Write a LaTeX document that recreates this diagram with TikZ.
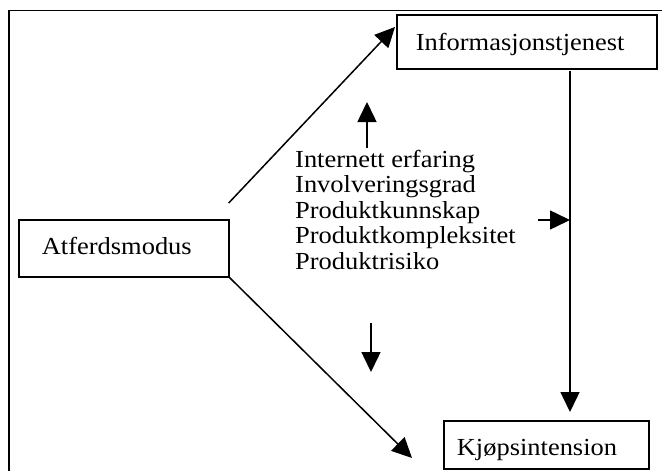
\documentclass[tikz,border=0pt]{standalone}
\usepackage{fontspec}
\setmainfont{Liberation Serif}[FakeStretch=1.08]
\usetikzlibrary{arrows.meta,calc}
\begin{document}
\begin{tikzpicture}[x=1pt,y=-1pt,
  box/.style={draw,line width=1.7pt,rectangle,anchor=north west,align=left,inner ysep=0pt,font=\fontsize{24.5}{28}\selectfont},
  conn/.style={line width=1.5pt,-{Triangle[length=20pt,width=19pt]}},
  frameline/.style={line width=1.5pt},
  factors/.style={anchor=base west,align=left,inner sep=0pt,font=\fontsize{24.5}{25.5}\selectfont}]
\useasboundingbox (0,0) rectangle (662,471);
\fill[white] (0,0) rectangle (662,471);
\draw[frameline] (9,471) -- (9,10.5) -- (662,10.5);
\node[box, minimum width=260pt, minimum height=54pt, inner xsep=19pt, text width=222pt, text height=18pt, text depth=0pt] (info) at (396,14) {Informasjonstjenest};
\node[box, minimum width=210pt, minimum height=57pt, inner xsep=23pt, text width=164pt, text height=13pt, text depth=0pt] (atf) at (18,219) {Atferdsmodus};
\node[box, minimum width=205pt, minimum height=48pt, inner xsep=13pt, text width=179pt, text height=22pt, text depth=0pt] (kjop) at (443,420) {Kjøpsintension};
\node[factors] (fac) at (295,269) {Internett erfaring\\Involveringsgrad\\Produktkunnskap\\Produktkompleksitet\\Produktrisiko};
% connector end points
\coordinate (a1s) at ($(atf.north east)+(-1,-16)$);
\coordinate (a1e) at ($(info.north west)+(-1,13)$);
\coordinate (a2e) at (412,458);
\coordinate (vs) at (570,71);
\coordinate (ve) at ($(kjop.north west)+(127,-8)$);
\coordinate (hs) at (538,220);
\coordinate (he) at (570,220);
\coordinate (us) at (367,148);
\coordinate (ue) at (367,102);
\coordinate (ds) at (371,323);
\coordinate (de) at (371,372);
\draw[conn] (a1s) -- (a1e);
\draw[conn] (atf.south east) -- (a2e);
\draw[conn] (vs) -- (ve);
\draw[conn] (hs) -- (he);
\draw[conn] (us) -- (ue);
\draw[conn] (ds) -- (de);
\end{tikzpicture}
\end{document}
